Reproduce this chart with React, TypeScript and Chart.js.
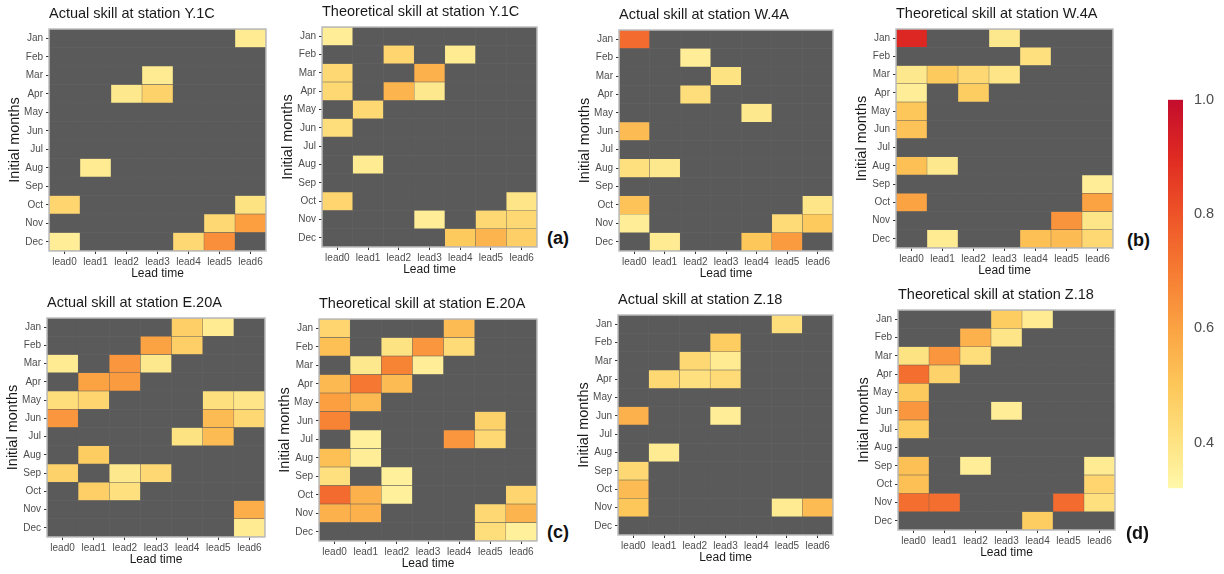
import React, { useEffect, useRef } from "react";
import { Chart, registerables } from "chart.js";

Chart.register(...registerables);
Chart.defaults.font.family = "'Liberation Sans', Arial, sans-serif";

// ---------- data ----------
const months = ["Jan", "Feb", "Mar", "Apr", "May", "Jun", "Jul", "Aug", "Sep", "Oct", "Nov", "Dec"];
const leads = ["lead0", "lead1", "lead2", "lead3", "lead4", "lead5", "lead6"];
const colorbarTicks = [0.4, 0.6, 0.8, 1.0];
const colorMin = 0.32;
const colorMax = 1.0;
const colorStops: [number, string][] = [
  [0.32, "#FFF8AA"],
  [0.4, "#FEE383"],
  [0.5, "#FDC75A"],
  [0.6, "#FBA343"],
  [0.7, "#F67B32"],
  [0.8, "#EE5328"],
  [0.9, "#DF2A22"],
  [1.0, "#C30D2D"],
];
const N = null;

// rows = initial month (Jan..Dec), columns = lead0..lead6, null = not skilful (grey)
const actualY1C = [
  [N, N, N, N, N, N, 0.37],
  [N, N, N, N, N, N, N],
  [N, N, N, 0.37, N, N, N],
  [N, N, 0.38, 0.46, N, N, N],
  [N, N, N, N, N, N, N],
  [N, N, N, N, N, N, N],
  [N, N, N, N, N, N, N],
  [N, 0.37, N, N, N, N, N],
  [N, N, N, N, N, N, N],
  [0.45, N, N, N, N, N, 0.4],
  [N, N, N, N, N, 0.44, 0.61],
  [0.36, N, N, N, 0.44, 0.65, N],
];
const theoreticalY1C = [
  [0.36, N, N, N, N, N, N],
  [N, N, 0.45, N, 0.37, N, N],
  [0.44, N, N, 0.56, N, N, N],
  [0.44, N, 0.55, 0.38, N, N, N],
  [N, 0.44, N, N, N, N, N],
  [0.42, N, N, N, N, N, N],
  [N, N, N, N, N, N, N],
  [N, 0.37, N, N, N, N, N],
  [N, N, N, N, N, N, N],
  [0.45, N, N, N, N, N, 0.39],
  [N, N, N, 0.36, N, 0.44, 0.44],
  [N, N, N, N, 0.49, 0.55, 0.47],
];
const actualW4A = [
  [0.74, N, N, N, N, N, N],
  [N, N, 0.36, N, N, N, N],
  [N, N, N, 0.4, N, N, N],
  [N, N, 0.42, N, N, N, N],
  [N, N, N, N, 0.38, N, N],
  [0.53, N, N, N, N, N, N],
  [N, N, N, N, N, N, N],
  [0.41, 0.38, N, N, N, N, N],
  [N, N, N, N, N, N, N],
  [0.51, N, N, N, N, N, 0.39],
  [0.36, N, N, N, N, 0.43, 0.49],
  [N, 0.37, N, N, 0.5, 0.62, N],
];
const theoreticalW4A = [
  [0.91, N, N, 0.38, N, N, N],
  [N, N, N, N, 0.41, N, N],
  [0.38, 0.49, 0.44, 0.39, N, N, N],
  [0.36, N, 0.48, N, N, N, N],
  [0.5, N, N, N, N, N, N],
  [0.51, N, N, N, N, N, N],
  [N, N, N, N, N, N, N],
  [0.52, 0.38, N, N, N, N, N],
  [N, N, N, N, N, N, 0.36],
  [0.6, N, N, N, N, N, 0.6],
  [N, N, N, N, N, 0.64, 0.39],
  [N, 0.37, N, N, 0.52, 0.53, 0.44],
];
const actualE20A = [
  [N, N, N, N, 0.47, 0.37, N],
  [N, N, N, 0.6, 0.47, N, N],
  [0.37, N, 0.63, 0.38, N, N, N],
  [N, 0.6, 0.62, N, N, N, N],
  [0.42, 0.45, N, N, N, 0.41, 0.39],
  [0.63, N, N, N, N, 0.53, 0.44],
  [N, N, N, N, 0.4, 0.53, N],
  [N, 0.48, N, N, N, N, N],
  [0.46, N, 0.38, 0.44, N, N, N],
  [N, 0.47, 0.41, N, N, N, N],
  [N, N, N, N, N, N, 0.57],
  [N, N, N, N, N, N, 0.37],
];
const theoreticalE20A = [
  [0.45, N, N, N, 0.53, N, N],
  [0.52, N, 0.4, 0.63, 0.43, N, N],
  [N, 0.38, 0.68, 0.36, N, N, N],
  [0.54, 0.71, 0.53, N, N, N, N],
  [0.61, 0.54, N, N, N, N, N],
  [0.68, N, N, N, N, 0.46, N],
  [N, 0.35, N, N, 0.63, 0.44, N],
  [0.52, 0.36, N, N, N, N, N],
  [0.41, N, 0.35, N, N, N, N],
  [0.74, 0.56, 0.35, N, N, N, 0.45],
  [0.56, 0.56, N, N, N, 0.44, 0.55],
  [N, N, N, N, N, 0.42, 0.35],
];
const actualZ18 = [
  [N, N, N, N, N, 0.42, N],
  [N, N, N, 0.48, N, N, N],
  [N, N, 0.44, 0.37, N, N, N],
  [N, 0.44, 0.41, 0.43, N, N, N],
  [N, N, N, N, N, N, N],
  [0.56, N, N, 0.36, N, N, N],
  [N, N, N, N, N, N, N],
  [N, 0.37, N, N, N, N, N],
  [0.44, N, N, N, N, N, N],
  [0.53, N, N, N, N, N, N],
  [0.5, N, N, N, N, 0.37, 0.53],
  [N, N, N, N, N, N, N],
];
const theoreticalZ18 = [
  [N, N, N, 0.48, 0.37, N, N],
  [N, N, 0.56, 0.39, N, N, N],
  [0.4, 0.63, 0.42, N, N, N, N],
  [0.73, 0.46, N, N, N, N, N],
  [0.49, N, N, N, N, N, N],
  [0.63, N, N, 0.36, N, N, N],
  [0.48, N, N, N, N, N, N],
  [N, N, N, N, N, N, N],
  [0.52, N, 0.36, N, N, N, 0.37],
  [0.52, N, N, N, N, N, 0.45],
  [0.73, 0.73, N, N, N, 0.74, 0.41],
  [N, N, N, N, 0.48, N, N],
];

// ---------- helpers ----------
const NA_COLOR = "#5A5A5A";
function hexToRgb(h: string) {
  const n = parseInt(h.slice(1), 16);
  return [(n >> 16) & 255, (n >> 8) & 255, n & 255];
}
function skillColor(v: number) {
  const val = Math.max(colorMin, Math.min(colorMax, v));
  for (let i = 0; i < colorStops.length - 1; i++) {
    const [a, ca] = colorStops[i];
    const [b, cb] = colorStops[i + 1];
    if (val >= a && val <= b) {
      const t = (val - a) / (b - a);
      const A = hexToRgb(ca);
      const B = hexToRgb(cb);
      const c = A.map((x, k) => Math.round(x + (B[k] - x) * t));
      return `rgb(${c[0]},${c[1]},${c[2]})`;
    }
  }
  return colorStops[colorStops.length - 1][1];
}

const panelPlugin = {
  id: "panelFrame",
  beforeDraw(chart: any) {
    const { ctx, chartArea: a } = chart;
    ctx.save();
    ctx.fillStyle = NA_COLOR;
    ctx.fillRect(a.left, a.top, a.right - a.left, a.bottom - a.top);
    ctx.restore();
  },
  afterDraw(chart: any) {
    const { ctx, chartArea: a } = chart;
    ctx.save();
    ctx.strokeStyle = "#BDBDBD";
    ctx.lineWidth = 1.5;
    ctx.strokeRect(a.left, a.top, a.right - a.left, a.bottom - a.top);
    ctx.restore();
  },
};

const YW = 48;
const TOP = 30;
const XH = 34;
const RP = 2;

type Rect = { l: number; t: number; r: number; b: number };

function Heatmap({ title, values, plot }: { title: string; values: (number | null)[][]; plot: Rect }) {
  const ref = useRef<HTMLCanvasElement>(null);
  useEffect(() => {
    const chart = new Chart(ref.current as HTMLCanvasElement, {
      type: "bar",
      data: {
        labels: leads,
        datasets: months.map((m, mi) => ({
          label: m,
          data: leads.map(() => [mi - 0.5, mi + 0.5]),
          backgroundColor: values[mi].map((v) => (v == null ? NA_COLOR : skillColor(v))),
          borderColor: values[mi].map((v) => (v == null ? "rgba(255,255,255,0.05)" : "rgba(0,0,0,0)")),
          borderWidth: 0.5,
          borderSkipped: false,
          grouped: false,
          barPercentage: 1,
          categoryPercentage: 1,
        })) as any,
      },
      options: {
        responsive: true,
        maintainAspectRatio: false,
        animation: false,
        layout: { padding: { left: 0, right: RP, top: 0, bottom: 0 } },
        plugins: {
          legend: { display: false },
          tooltip: { enabled: false },
          title: {
            display: true,
            text: title,
            align: "start",
            fullSize: false,
            color: "#1a1a1a",
            font: { size: 14.5, weight: "normal" },
            padding: { top: 6, bottom: 6.6 },
          },
        },
        scales: {
          x: {
            type: "category",
            offset: true,
            grid: { drawOnChartArea: false, offset: false, tickLength: 3, color: "#333333" },
            border: { display: false },
            ticks: { color: "#4d4d4d", font: { size: 10 }, padding: 2, maxRotation: 0, autoSkip: false },
            title: {
              display: true,
              text: "Lead time",
              color: "#1a1a1a",
              font: { size: 12 },
              padding: { top: 0, bottom: 3.8 },
            },
            afterFit: (s: any) => {
              s.height = XH;
            },
          },
          y: {
            type: "linear",
            reverse: true,
            min: -0.5,
            max: 11.5,
            afterBuildTicks: (s: any) => {
              s.ticks = months.map((_, i) => ({ value: i }));
            },
            grid: { drawOnChartArea: false, tickLength: 3, color: "#333333" },
            border: { display: false },
            ticks: {
              color: "#4d4d4d",
              font: { size: 10 },
              padding: 3,
              autoSkip: false,
              callback: (v: any) => months[Math.round(Number(v))],
            },
            title: {
              display: true,
              text: "Initial months",
              color: "#1a1a1a",
              font: { size: 14.5 },
              padding: { top: 5.3, bottom: 0 },
            },
            afterFit: (s: any) => {
              s.width = YW;
            },
          },
        },
      } as any,
      plugins: [panelPlugin],
    });
    return () => chart.destroy();
  }, []);
  const style: React.CSSProperties = {
    position: "absolute",
    left: plot.l - YW,
    top: plot.t - TOP,
    width: YW + (plot.r - plot.l) + RP,
    height: TOP + (plot.b - plot.t) + XH,
  };
  return (
    <div style={style}>
      <canvas ref={ref} />
    </div>
  );
}

function Colorbar() {
  const ref = useRef<HTMLCanvasElement>(null);
  useEffect(() => {
    const chart = new Chart(ref.current as HTMLCanvasElement, {
      type: "bar",
      data: {
        labels: [""],
        datasets: [
          {
            data: [[colorMin, colorMax]],
            backgroundColor: (c: any) => {
              const ch = c.chart;
              const area = ch.chartArea;
              if (!area) return colorStops[0][1];
              const y = ch.scales.y;
              const p0 = y.getPixelForValue(colorMin);
              const p1 = y.getPixelForValue(colorMax);
              const g = ch.ctx.createLinearGradient(0, p0, 0, p1);
              colorStops.forEach(([v, col]) => g.addColorStop((v - colorMin) / (colorMax - colorMin), col));
              return g;
            },
            borderWidth: 0,
            barPercentage: 1,
            categoryPercentage: 1,
          },
        ] as any,
      },
      options: {
        responsive: true,
        maintainAspectRatio: false,
        animation: false,
        layout: { padding: { left: 8, right: 0, top: 10, bottom: 12 } },
        plugins: { legend: { display: false }, tooltip: { enabled: false } },
        scales: {
          x: { display: false },
          y: {
            position: "right",
            min: colorMin,
            max: colorMax,
            z: 1,
            afterBuildTicks: (s: any) => {
              s.ticks = colorbarTicks.map((v) => ({ value: v }));
            },
            grid: {
              drawTicks: false,
              lineWidth: 1,
              color: (c: any) => (c.tick && c.tick.value >= 1 ? "rgba(0,0,0,0)" : "rgba(255,255,255,0.55)"),
            },
            border: { display: false },
            ticks: {
              color: "#4d4d4d",
              font: { size: 14.5 },
              padding: 11,
              callback: (v: any) => Number(v).toFixed(1),
            },
            afterFit: (s: any) => {
              s.width = 41;
            },
          },
        },
      } as any,
    });
    return () => chart.destroy();
  }, []);
  return (
    <div style={{ position: "absolute", left: 1160, top: 80, width: 64, height: 428 }}>
      <canvas ref={ref} />
    </div>
  );
}

const panelLetters = [
  { text: "(a)", x: 547, y: 238 },
  { text: "(b)", x: 1127, y: 240 },
  { text: "(c)", x: 547, y: 532 },
  { text: "(d)", x: 1126, y: 533 },
];

export default function App() {
  const panels = [
    { title: "Actual skill at station Y.1C", values: actualY1C, plot: { l: 49, t: 29, r: 266, b: 251 } },
    { title: "Theoretical skill at station Y.1C", values: theoreticalY1C, plot: { l: 322, t: 27, r: 537, b: 247 } },
    { title: "Actual skill at station W.4A", values: actualW4A, plot: { l: 619, t: 30, r: 833, b: 251 } },
    { title: "Theoretical skill at station W.4A", values: theoreticalW4A, plot: { l: 896, t: 29, r: 1113, b: 248 } },
    { title: "Actual skill at station E.20A", values: actualE20A, plot: { l: 47, t: 318, r: 265, b: 537 } },
    { title: "Theoretical skill at station E.20A", values: theoreticalE20A, plot: { l: 319, t: 319, r: 537, b: 541 } },
    { title: "Actual skill at station Z.18", values: actualZ18, plot: { l: 618, t: 315, r: 833, b: 535 } },
    { title: "Theoretical skill at station Z.18", values: theoreticalZ18, plot: { l: 898, t: 310, r: 1115, b: 530 } },
  ];
  return (
    <div
      style={{
        position: "fixed",
        left: 0,
        top: 0,
        width: 1224,
        height: 574,
        background: "#ffffff",
        overflow: "hidden",
        fontFamily: "'Liberation Sans', Arial, sans-serif",
      }}
    >
      {panels.map((p, i) => (
        <Heatmap key={i} title={p.title} values={p.values} plot={p.plot} />
      ))}
      <Colorbar />
      {panelLetters.map((l) => (
        <div
          key={l.text}
          style={{
            position: "absolute",
            left: l.x,
            top: l.y - 10,
            fontSize: 18,
            lineHeight: "20px",
            fontWeight: "bold",
            color: "#111",
          }}
        >
          {l.text}
        </div>
      ))}
    </div>
  );
}
